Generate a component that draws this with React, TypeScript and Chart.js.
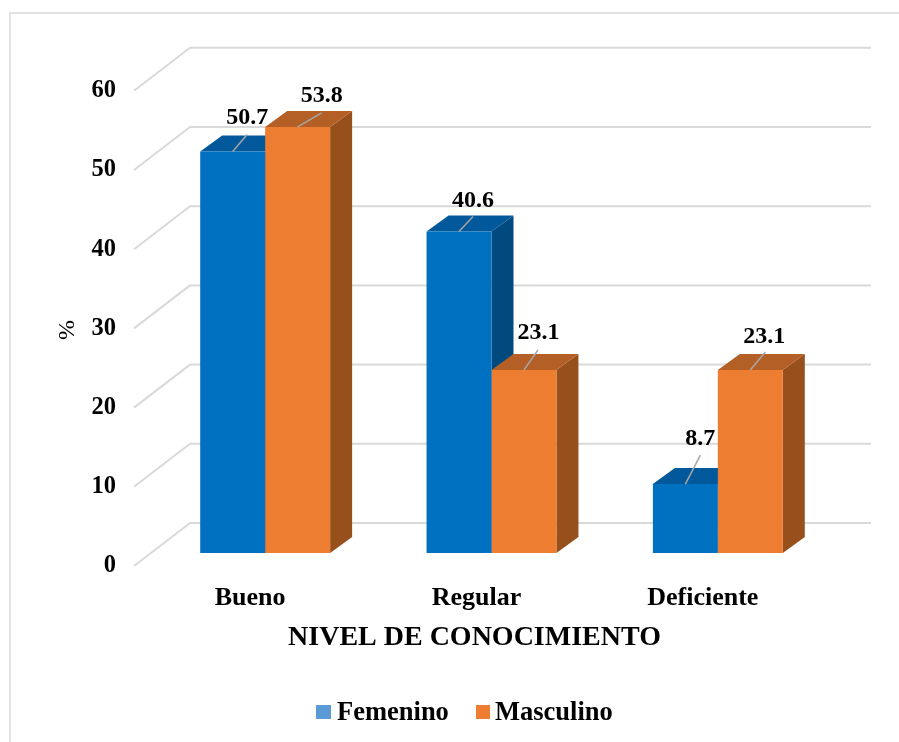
import React, { useEffect, useRef } from "react";
import { Chart, registerables } from "chart.js";

Chart.register(...registerables);

const categories = ["Bueno", "Regular", "Deficiente"];
const femenino = [50.7, 40.6, 8.7];
const masculino = [53.8, 23.1, 23.1];
const yTicks = [0, 10, 20, 30, 40, 50, 60];
const seriesNames = ["Femenino", "Masculino"];

const FONT = "'Liberation Serif'";
const GRID = "#D9D9D9";
const DX = 22;
const DY = 16;
// label placement per dataset / category: [leader dx, leader dy, text dx, text dy]
const labelPlace = [
  [[14.5, -17, 14.5, -34], [14, -15, 14, -31], [15, -29, 15, -45]],
  [[24, -14, 24, -31], [14, -20, 14.5, -37], [15, -18, 14, -33]],
];
// legend layout: swatch left, swatch width, text left, swatch colour
const legendPlace = [
  { x: 316, w: 15, tx: 337, color: "#5B9BD5" },
  { x: 476, w: 14, tx: 495, color: "#ED7D31" },
];

const threeD = {
  id: "threeD",
  beforeDatasetsDraw(chart: any) {
    const { ctx } = chart;
    const y = chart.scales.y;
    ctx.save();
    ctx.strokeStyle = GRID;
    ctx.lineWidth = 2;
    ctx.lineJoin = "round";
    for (const t of y.ticks) {
      const p = y.getPixelForValue(t.value);
      ctx.beginPath();
      ctx.moveTo(134, p + 13);
      ctx.lineTo(190, p - 30);
      ctx.lineTo(871, p - 30);
      ctx.stroke();
    }
    const faces = [
      { top: "#01589A", side: "#004A80" },
      { top: "#B45F25", side: "#97501C" },
    ];
    chart.data.datasets.forEach((_: any, di: number) => {
      chart.getDatasetMeta(di).data.forEach((b: any) => {
        const hw = b.width / 2;
        const l = b.x - hw;
        const r = b.x + hw;
        ctx.fillStyle = faces[di].side;
        ctx.beginPath();
        ctx.moveTo(r, b.y);
        ctx.lineTo(r + DX, b.y - DY);
        ctx.lineTo(r + DX, b.base - DY);
        ctx.lineTo(r, b.base);
        ctx.closePath();
        ctx.fill();
        ctx.fillStyle = faces[di].top;
        ctx.beginPath();
        ctx.moveTo(l, b.y);
        ctx.lineTo(l + DX, b.y - DY);
        ctx.lineTo(r + DX, b.y - DY);
        ctx.lineTo(r, b.y);
        ctx.closePath();
        ctx.fill();
      });
    });
    ctx.restore();
  },
  afterDatasetsDraw(chart: any) {
    const { ctx } = chart;
    ctx.save();
    ctx.font = `bold 24px ${FONT}`;
    ctx.textAlign = "center";
    ctx.textBaseline = "middle";
    chart.data.datasets.forEach((ds: any, di: number) => {
      chart.getDatasetMeta(di).data.forEach((b: any, i: number) => {
        const [ldx, ldy, tdx, tdy] = labelPlace[di][i];
        ctx.strokeStyle = "#A6A6A6";
        ctx.lineWidth = 1.5;
        ctx.beginPath();
        ctx.moveTo(b.x, b.y);
        ctx.lineTo(b.x + ldx, b.y + ldy);
        ctx.stroke();
        ctx.fillStyle = "#000";
        ctx.fillText(ds.data[i].toFixed(1), b.x + tdx, b.y + tdy);
      });
    });
    // legend
    ctx.textAlign = "left";
    ctx.font = `bold 26.5px ${FONT}`;
    seriesNames.forEach((name, i) => {
      const lp = legendPlace[i];
      ctx.fillStyle = lp.color;
      ctx.fillRect(lp.x, 705, lp.w, 14);
      ctx.fillStyle = "#000";
      ctx.fillText(name, lp.tx, 713);
    });
    // vertical axis title
    ctx.textAlign = "center";
    ctx.translate(68, 330);
    ctx.rotate(-Math.PI / 2);
    ctx.font = `24px ${FONT}`;
    ctx.fillText("%", 0, 0);
    ctx.restore();
  },
  afterLayout(chart: any) {
    const tt = chart.titleBlock;
    const shiftT = 474.5 - (tt.left + tt.right) / 2;
    tt.left += shiftT;
    tt.right += shiftT;
    tt.top = 621;
    tt.bottom = 655;
  },
};

export default function App() {
  const ref = useRef<HTMLCanvasElement>(null);
  useEffect(() => {
    document.body.style.margin = "0";
    const chart = new Chart(ref.current as HTMLCanvasElement, {
      type: "bar",
      data: {
        labels: categories,
        datasets: [
          { label: seriesNames[0], data: femenino, backgroundColor: "#0070C0", borderWidth: 0 },
          { label: seriesNames[1], data: masculino, backgroundColor: "#ED7D31", borderWidth: 0 },
        ],
      },
      plugins: [threeD],
      options: {
        animation: false,
        responsive: false,
        layout: { padding: { left: 54, right: 68, top: 77.8, bottom: 0 } },
        datasets: { bar: { categoryPercentage: 0.574, barPercentage: 1 } },
        scales: {
          x: {
            grid: { display: false, drawTicks: false },
            border: { display: false },
            ticks: {
              color: "#000",
              font: { family: FONT, size: 26, weight: "bold" },
              padding: 30,
              labelOffset: -15,
              maxRotation: 0,
            },
            afterFit: (s: any) => {
              s.height = 155.4;
            },
          },
          y: {
            min: 0,
            max: 60,
            grid: { display: false, drawTicks: false },
            border: { display: false },
            ticks: {
              color: "#000",
              font: { family: FONT, size: 24.5, weight: "bold" },
              padding: 36,
              labelOffset: 13,
              stepSize: 10,
              callback: (v: any) => (yTicks.includes(v) ? String(v) : ""),
            },
            afterFit: (s: any) => {
              s.width = 98;
            },
          },
        },
        plugins: {
          tooltip: { enabled: false },
          legend: { display: false },
          title: {
            display: true,
            position: "bottom",
            text: "NIVEL DE CONOCIMIENTO",
            color: "#000",
            font: { family: FONT, size: 28, weight: "bold" },
            padding: 0,
          },
        },
      },
    } as any);
    return () => chart.destroy();
  }, []);
  return (
    <div style={{ position: "relative", width: 899, height: 742, background: "#fff", overflow: "hidden" }}>
      <div
        style={{
          position: "absolute",
          left: 9,
          top: 12,
          width: 890,
          height: 740,
          borderLeft: "2px solid #E2E2E2",
          borderTop: "2px solid #E2E2E2",
        }}
      />
      <canvas ref={ref} width={899} height={742} style={{ position: "absolute", left: 0, top: 0, display: "block" }} />
    </div>
  );
}
